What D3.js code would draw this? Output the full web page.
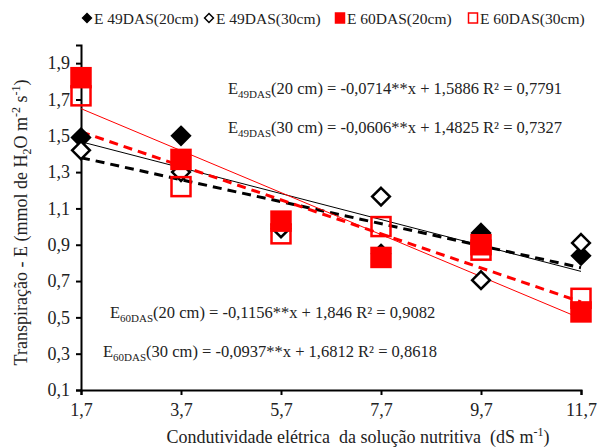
<!DOCTYPE html>
<meta charset="utf-8">
<head>
<style>
body { margin: 0; background: #fff; }
text { font-family: "Liberation Serif", "Times New Roman", serif; fill: #222; white-space: pre; }
.axis path, .axis line { stroke: #000; stroke-width: 2px; }
.axis text { font-size: 18px; }
</style>
</head>
<body>
<svg width="611" height="447"></svg>
<script src="https://d3js.org/d3.v7.min.js"></script>
<script>
// data
let ec = [1.7, 3.7, 5.7, 7.7, 9.7, 11.7];
let e49_20 = [1.49, 1.50, 1.01, 0.85, 0.965, 0.84];
let e49_30 = [1.42, 1.30, 0.99, 1.165, 0.705, 0.91];
let e60_20 = [1.82, 1.37, 1.03, 0.83, 0.90, 0.53];
let e60_30 = [1.72, 1.22, 0.96, 1.00, 0.87, 0.605];
let yTicks = [0.1, 0.3, 0.5, 0.7, 0.9, 1.1, 1.3, 1.5, 1.7, 1.9];

// fitted lines (slope, intercept) from the equations
let fits = [
    { a: -0.0714, b: 1.5886, color: '#000', width: 1, dash: null },
    { a: -0.0606, b: 1.4825, color: '#000', width: 3, dash: '9,6' },
    { a: -0.1156, b: 1.846, color: '#f00', width: 1, dash: null },
    { a: -0.0937, b: 1.6812, color: '#f00', width: 3, dash: '9,6' }
];

let svg = d3.select('svg');
let margin = { top: 45, right: 30, bottom: 57, left: 81 };
let width = +svg.attr('width') - margin.left - margin.right;
let height = +svg.attr('height') - margin.top - margin.bottom;

let x = d3.scaleLinear().domain([1.7, 11.7]).range([0, width]);
let y = d3.scaleLinear().domain([0.1, 2.0]).range([height, 0]);
let fmt = (d) => d3.format('.1f')(d).replace('.', ',');

let g = svg.append('g')
    .attr('transform', `translate(${margin.left}, ${margin.top})`);

// axes
g.append('g')
    .attr('class', 'axis axis--x')
    .attr('transform', `translate(0, ${height})`)
    .call(d3.axisBottom(x).tickValues(ec).tickFormat(fmt).tickSizeOuter(0).tickSize(5).tickPadding(8));

g.append('g')
    .attr('class', 'axis axis--y')
    .call(d3.axisLeft(y).tickValues(yTicks).tickFormat(fmt).tickSizeOuter(0).tickSize(5).tickPadding(6));

// trend lines
fits.forEach((f) => {
    g.append('line')
        .attr('x1', x(1.7)).attr('y1', y(f.a * 1.7 + f.b))
        .attr('x2', x(11.7)).attr('y2', y(f.a * 11.7 + f.b))
        .attr('stroke', f.color)
        .attr('stroke-width', f.width)
        .attr('stroke-dasharray', f.dash);
});

// markers
let diamond = d3.symbol().type(d3.symbolDiamond2).size(200);
let series = [
    { vals: e49_20, shape: 'diamond', fill: '#000', stroke: '#000' },
    { vals: e49_30, shape: 'diamond', fill: '#fff', stroke: '#000' },
    { vals: e60_20, shape: 'square', fill: '#f00', stroke: '#f00' },
    { vals: e60_30, shape: 'square', fill: 'none', stroke: '#f00' }
];

series.forEach((s) => {
    let pts = g.selectAll(null).data(s.vals).enter();
    if (s.shape === 'diamond') {
        pts.append('path')
            .attr('d', diamond)
            .attr('transform', (d, i) => `translate(${x(ec[i])}, ${y(d)})`)
            .attr('fill', s.fill)
            .attr('stroke', s.stroke)
            .attr('stroke-width', 2.5);
    } else {
        pts.append('rect')
            .attr('x', (d, i) => x(ec[i]) - 9.5)
            .attr('y', (d) => y(d) - 9.5)
            .attr('width', 19)
            .attr('height', 19)
            .attr('fill', s.fill)
            .attr('stroke', s.stroke)
            .attr('stroke-width', 2.5);
    }
});

// equations
let eqs = [
    { pre: 'E', sub: '49DAS', post: '(20 cm) = -0,0714**x + 1,5886 R² = 0,7791', x: 228, y: 94 },
    { pre: 'E', sub: '49DAS', post: '(30 cm) = -0,0606**x + 1,4825 R² = 0,7327', x: 228, y: 133 },
    { pre: 'E', sub: '60DAS', post: '(20 cm) = -0,1156**x + 1,846 R² = 0,9082', x: 110, y: 318 },
    { pre: 'E', sub: '60DAS', post: '(30 cm) = -0,0937**x + 1,6812 R² = 0,8618', x: 103, y: 357 }
];
eqs.forEach((e) => {
    let t = svg.append('text').attr('x', e.x).attr('y', e.y).style('font-size', '16.5px');
    t.append('tspan').text(e.pre);
    t.append('tspan').text(e.sub).attr('dy', 4).style('font-size', '11px');
    t.append('tspan').text(e.post).attr('dy', -4);
});

// legend
let legend = [
    { label: 'E 49DAS(20cm)', shape: 'diamond', fill: '#000', stroke: '#000' },
    { label: 'E 49DAS(30cm)', shape: 'diamond', fill: '#fff', stroke: '#000' },
    { label: 'E 60DAS(20cm)', shape: 'square', fill: '#f00', stroke: '#f00' },
    { label: 'E 60DAS(30cm)', shape: 'square', fill: '#fff', stroke: '#f00' }
];
let lx = [87, 209, 340, 473];
legend.forEach((l, i) => {
    let lg = svg.append('g').attr('transform', `translate(${lx[i]}, 18)`);
    if (l.shape === 'diamond') {
        lg.append('path').attr('d', d3.symbol().type(d3.symbolDiamond2).size(50))
            .attr('fill', l.fill).attr('stroke', l.stroke).attr('stroke-width', 1.5);
    } else {
        lg.append('rect').attr('x', -4.5).attr('y', -5).attr('width', 9).attr('height', 10)
            .attr('fill', l.fill).attr('stroke', l.stroke).attr('stroke-width', 1.5);
    }
    lg.append('text').attr('x', 7).attr('y', 5.5).style('font-size', '15.5px').text(l.label);
});

// axis titles
let yt = svg.append('text')
    .attr('transform', `translate(27, ${margin.top + height / 2 + 5}) rotate(-90)`)
    .attr('text-anchor', 'middle')
    .style('font-size', '18px');
yt.append('tspan').text('Transpiração - E (mmol de H');
yt.append('tspan').text('2').attr('dy', 4).style('font-size', '12px');
yt.append('tspan').text('O m').attr('dy', -4);
yt.append('tspan').text('-2').attr('dy', -7).style('font-size', '12px');
yt.append('tspan').text(' s').attr('dy', 7);
yt.append('tspan').text('-1').attr('dy', -7).style('font-size', '12px');
yt.append('tspan').text(')').attr('dy', 7);

let xt = svg.append('text')
    .attr('x', 358).attr('y', 443)
    .attr('text-anchor', 'middle')
    .style('font-size', '18px');
xt.append('tspan').text('Condutividade elétrica  da solução nutritiva  (dS m');
xt.append('tspan').text('-1').attr('dy', -7).style('font-size', '12px');
xt.append('tspan').text(')').attr('dy', 7);
</script>
</body>
</html>
